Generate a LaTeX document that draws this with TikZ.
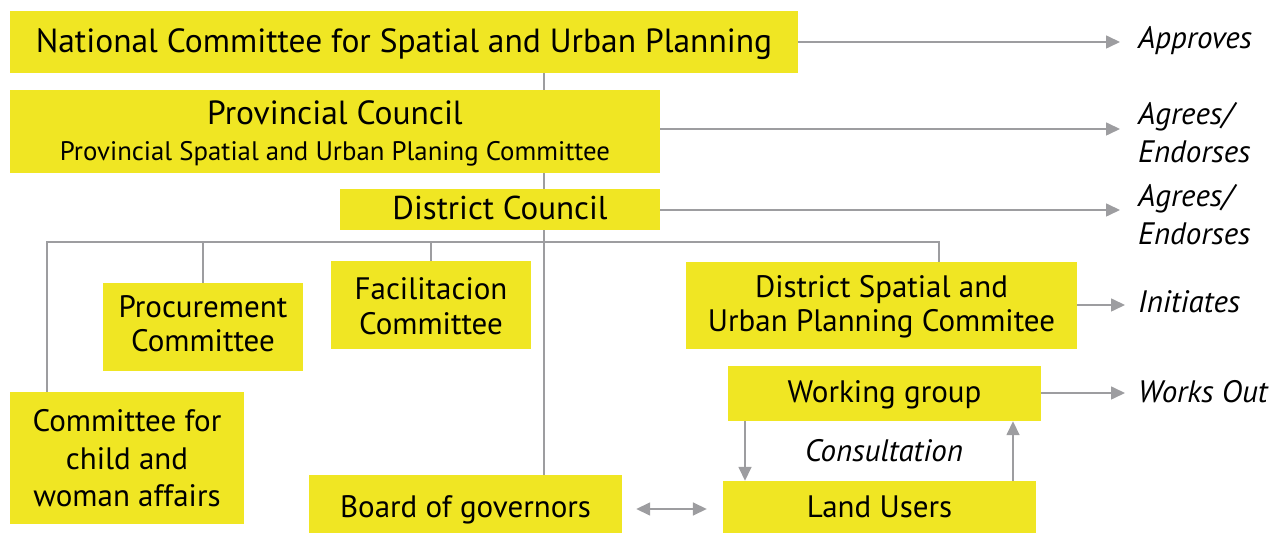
\documentclass[tikz,border=0pt]{standalone}
\usepackage{fontspec}
\setmainfont{PT Sans}
\usetikzlibrary{arrows.meta}
\definecolor{ybox}{RGB}{240,230,35}
\definecolor{lgray}{RGB}{157,157,160}
\tikzset{
  ybox/.style={fill=ybox, draw=none, inner sep=0pt, align=center, text depth=0pt, font=\fontsize{31}{35}\selectfont},
  conn/.style={draw=lgray, line width=1.6pt},
  arr/.style={conn, -{Triangle[length=14pt,width=13pt]}},
  lab/.style={anchor=south west, align=left, inner sep=0pt, text depth=0pt, font=\fontsize{31}{38}\selectfont\itshape},
}
\begin{document}
\begin{tikzpicture}[x=1pt,y=-1pt]
\useasboundingbox (0,0) rectangle (1283,534);
% boxes (text height = 2 x (last baseline - box centre))
\node[ybox, minimum width=788, minimum height=62, text height=22pt, font=\fontsize{33.5}{36}\selectfont] (nat) at (404,42) {National Committee for Spatial and Urban Planning};
\node[ybox, minimum width=650, minimum height=83, text height=58pt, font=\fontsize{31}{36}\selectfont] (prov) at (335,131.5) {{\fontsize{33.5}{36}\selectfont Provincial Council}\\{\fontsize{26.8}{28}\selectfont Provincial Spatial and Urban Planing Committee}};
\node[ybox, minimum width=320, minimum height=41, text height=21pt, font=\fontsize{33}{35}\selectfont] (dist) at (500,209.5) {District Council};
\node[ybox, minimum width=200, minimum height=88, text height=50pt, font=\fontsize{31}{34}\selectfont] (proc) at (203,327) {Procurement\\Committee};
\node[ybox, minimum width=200, minimum height=88, text height=60pt, font=\fontsize{31}{35}\selectfont] (fac) at (431,305) {Facilitacion\\Committee};
\node[ybox, minimum width=391, minimum height=87, text height=53pt, font=\fontsize{31}{34.5}\selectfont] (dsp) at (881.5,305.5) {District Spatial and\\Urban Planning Commitee};
\node[ybox, minimum width=234, minimum height=132, text height=98pt, font=\fontsize{31}{37.5}\selectfont] (child) at (127,458) {Committee for\\child and\\woman affairs};
\node[ybox, minimum width=313, minimum height=58, text height=26pt] (board) at (465.5,504) {Board of governors};
\node[ybox, minimum width=313, minimum height=52, text height=22pt] (land) at (879.5,507) {Land Users};
\node[ybox, minimum width=313, minimum height=55, text height=19pt] (wg) at (884.5,393.5) {Working group};
% labels (anchored at last baseline)
\node[lab] (l1) at (1138,49) {Approves};
\node[lab] (l2) at (1138,163) {Agrees/\\Endorses};
\node[lab] (l3) at (1138,245) {Agrees/\\Endorses};
\node[lab] (l4) at (1138,313) {Initiates};
\node[lab] (l5) at (1138,403) {Works Out};
\node[font=\fontsize{31}{32}\selectfont\itshape, inner sep=0pt, anchor=south, text depth=0pt] (cons) at (884,462) {Consultation};
% trunk
\coordinate (tr) at (544,242);
\coordinate (bl) at (47,242);
\coordinate (br) at (939,242);
\draw[conn] (tr |- nat.south) -- (tr |- prov.north);
\draw[conn] (tr |- prov.south) -- (tr |- dist.north);
\draw[conn] (tr |- dist.south) -- (tr |- board.north);
\draw[conn] (bl |- child.north) -- (bl) -- (br) -- (br |- dsp.north);
\draw[conn] (proc.north) -- (proc.north |- tr);
\draw[conn] (fac.north) -- (fac.north |- tr);
% right arrows
\draw[arr] (nat.east |- 0,42) -- (1120,42);
\draw[arr] (prov.east |- 0,129) -- (1120,129);
\draw[arr] (dist.east |- 0,210) -- (1120,210);
\draw[arr] (dsp.east |- 0,305) -- (1125,305);
\draw[arr] (wg.east |- 0,393) -- (1125,393);
% consultation
\draw[arr] (745,0 |- wg.south) -- (745,0 |- land.north);
\draw[arr] (1013,0 |- land.north) -- (1013,0 |- wg.south);
\draw[conn, {Triangle[length=14pt,width=13pt]}-{Triangle[length=14pt,width=13pt]}] ([xshift=14pt]board.east |- 0,509) -- ([xshift=-16pt]land.west |- 0,509);
\end{tikzpicture}
\end{document}
